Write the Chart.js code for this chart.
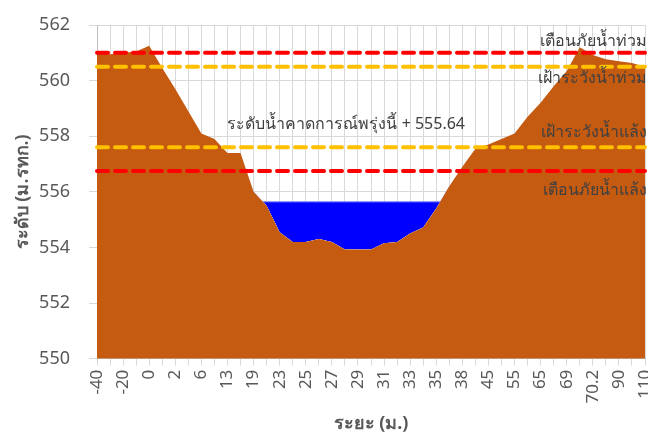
<!DOCTYPE html>
<html>
<head>
<meta charset="utf-8">
<script src="https://cdn.jsdelivr.net/npm/chart.js@4.4.1/dist/chart.umd.min.js"></script>
<style>
  html, body { margin: 0; padding: 0; background: #fff; }
  #wrap { width: 648px; height: 437px; }
</style>
</head>
<body>
<div id="wrap"><canvas id="chart" width="648" height="437"></canvas></div>
<script>
/* ---------- Data ---------- */
const distances = ['-40','-30','-20','-10','0','1','2','4','6','10','13','16','19','21','23','24','25','26',
  '27','28','29','30','31','32','33','34','35','37','38','40','45','50','55','60','65','67','69','70',
  '70.2','80','90','100','110'];

// ระดับตลิ่ง / ท้องน้ำ (ม.รทก.)
const groundLevel = [561.0, 560.95, 561.0, 561.05, 561.25, 560.45, 559.7, 558.9, 558.1, 557.9, 557.4, 557.4,
  556.0, 555.5, 554.55, 554.2, 554.2, 554.3, 554.2, 553.93, 553.93, 553.93, 554.15, 554.2, 554.5, 554.72,
  555.4, 556.2, 556.9, 557.55, 557.7, 557.9, 558.1, 558.7, 559.2, 559.8, 560.35, 561.2, 560.92, 560.77,
  560.7, 560.63, 560.5];

const forecastLevel = 555.64;
const waterFrom = 12, waterTo = 27;     // ช่วงที่น้ำครอบคลุม (index)

const floodWarn  = 561.0;   // เตือนภัยน้ำท่วม
const floodWatch = 560.5;   // เฝ้าระวังน้ำท่วม
const dryWatch   = 557.6;   // เฝ้าระวังน้ำแล้ง
const dryWarn    = 556.75;  // เตือนภัยน้ำแล้ง

const yTicks = [550, 552, 554, 556, 558, 560, 562];

/* ---------- Helpers ---------- */
const flat = (v) => distances.map(() => v);
const waterLevel = distances.map((_, i) => (i >= waterFrom && i <= waterTo) ? forecastLevel : null);

const FONT = "'Noto Sans', 'DejaVu Sans', sans-serif";
const GRAY = '#595959';

/* ---------- Text labels plugin ---------- */
const labelPlugin = {
  id: 'levelLabels',
  afterDatasetsDraw(chart) {
    const { ctx, chartArea } = chart;
    const y = chart.scales.y;
    const right = chartArea.right + 2;
    ctx.save();
    ctx.fillStyle = '#404040';
    ctx.font = `16px ${FONT}`;
    ctx.textBaseline = 'middle';
    ctx.textAlign = 'right';
    ctx.fillText('เตือนภัยน้ำท่วม', right, y.getPixelForValue(floodWarn) - 11);
    ctx.fillText('เฝ้าระวังน้ำท่วม', right, y.getPixelForValue(floodWatch) + 12);
    ctx.fillText('เฝ้าระวังน้ำแล้ง', right, y.getPixelForValue(dryWatch) - 15);
    ctx.fillText('เตือนภัยน้ำแล้ง', right, y.getPixelForValue(dryWarn) + 19);
    ctx.textAlign = 'left';
    const x = chart.scales.x.getPixelForValue(10);
    ctx.fillText('ระดับน้ำคาดการณ์พรุ่งนี้ + ' + forecastLevel.toFixed(2), x, y.getPixelForValue(forecastLevel) - 77);
    ctx.restore();
  }
};

const dashed = (color) => ({
  data: [], borderColor: color, borderWidth: 4, borderDash: [11, 7], borderCapStyle: 'round',
  pointRadius: 0, fill: false, tension: 0
});

/* ---------- Chart ---------- */
new Chart(document.getElementById('chart'), {
  type: 'line',
  data: {
    labels: distances,
    datasets: [
      { ...dashed('#ff0000'), label: 'เตือนภัยน้ำท่วม', data: flat(floodWarn) },
      { ...dashed('#ffc000'), label: 'เฝ้าระวังน้ำท่วม', data: flat(floodWatch) },
      { ...dashed('#ffc000'), label: 'เฝ้าระวังน้ำแล้ง', data: flat(dryWatch) },
      { ...dashed('#ff0000'), label: 'เตือนภัยน้ำแล้ง', data: flat(dryWarn) },
      {
        label: 'ตลิ่ง', data: groundLevel, borderColor: '#c55a11', borderWidth: 0,
        backgroundColor: '#c55a11', fill: 'start', pointRadius: 0, tension: 0
      },
      {
        label: 'ระดับน้ำ', data: waterLevel, borderColor: '#7a86ff', borderWidth: 1,
        fill: { target: 4, above: '#0000ff', below: 'rgba(0,0,0,0)' }, pointRadius: 0, tension: 0
      }
    ]
  },
  options: {
    responsive: false,
    animation: false,
    layout: { padding: { top: 25, right: 3, left: 12, bottom: 2 } },
    plugins: { legend: { display: false }, tooltip: { enabled: false } },
    scales: {
      x: {
        type: 'category',
        offset: false,
        afterFit: (s) => { s.paddingLeft = 0; s.paddingRight = 0; },
        grid: { color: '#d9d9d9', lineWidth: 1, tickLength: 7 },
        border: { color: '#bfbfbf' },
        ticks: {
          autoSkip: false, maxRotation: 90, minRotation: 90, padding: 4,
          color: GRAY, font: { family: FONT, size: 17 },
          callback: (v, i) => (i % 2 === 0 ? distances[i] : '')
        },
        title: { display: true, text: 'ระยะ (ม.)', color: GRAY, font: { family: FONT, size: 18, weight: 'bold' }, padding: { top: 6, bottom: 0 } }
      },
      y: {
        min: 550, max: 562,
        afterBuildTicks: (s) => { s.ticks = yTicks.map(v => ({ value: v })); },
        afterFit: (s) => { s.width = 85; s.paddingTop = 0; s.paddingBottom = 0; },
        grid: { color: '#d9d9d9', lineWidth: 1, tickLength: 8 },
        border: { color: '#bfbfbf' },
        ticks: { color: GRAY, font: { family: FONT, size: 18 }, padding: 19 },
        title: { display: true, text: 'ระดับ (ม.รทก.)', color: GRAY, font: { family: FONT, size: 18, weight: 'bold' }, padding: { top: 0, bottom: 0 } }
      }
    }
  },
  plugins: [labelPlugin]
});
</script>
</body>
</html>
